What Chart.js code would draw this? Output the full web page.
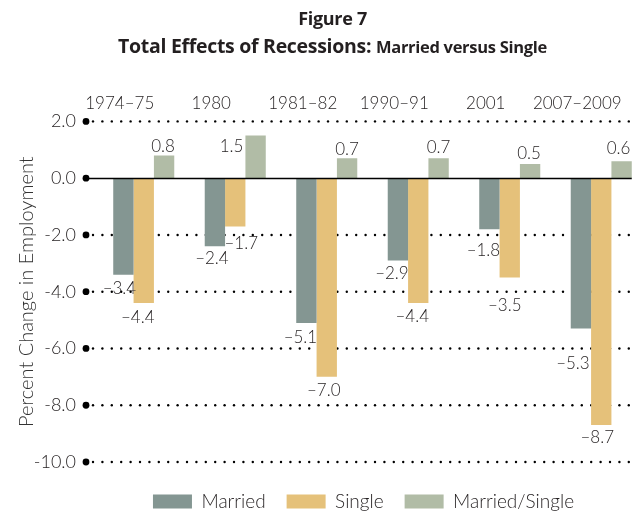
<!DOCTYPE html>
<html>
<head>
<meta charset="utf-8">
<script src="https://cdn.jsdelivr.net/npm/chart.js@4.4.1/dist/chart.umd.min.js"></script>
<style>
  html, body { margin: 0; padding: 0; background: #fff; overflow: hidden; }
  .wrap { position: relative; width: 647px; height: 512px; }
  .titulo {
    position: absolute; left: 0; top: 5px; width: 100%; padding-left: 18px; box-sizing: border-box;
    text-align: center; font-family: "Open Sans", sans-serif; font-weight: bold;
    color: #231f20; line-height: 27px; letter-spacing: -0.3px;
  }
  .titulo .l1 { font-size: 18px; }
  .titulo .l2 { font-size: 19.5px; }
  .titulo .l2 small { font-size: 16.5px; }
</style>
</head>
<body>
<div class="wrap">
  <div class="titulo">
    <div class="l1">Figure 7</div>
    <div class="l2">Total Effects of Recessions: <small>Married versus Single</small></div>
  </div>
  <canvas id="grafico"></canvas>
</div>
<script>
const recesiones = ['1974–75', '1980', '1981–82', '1990–91', '2001', '2007–2009'];
const casados = [-3.4, -2.4, -5.1, -2.9, -1.8, -5.3];
const solteros = [-4.4, -1.7, -7.0, -4.4, -3.5, -8.7];
const razon = [0.8, 1.5, 0.7, 0.7, 0.5, 0.6];
const ticksY = [2, 0, -2, -4, -6, -8, -10];

// ajustes de etiquetas a mano, como en el original [dx, dy]
const ajustes = [
  [[-4, 0], [-3, -1], [-6, 1], [-6, 0], [-6, 8], [-8, 21]],
  [[-6, 1], [6, 4], [-3, 0], [-6, 0], [-5, 15], [-4, -1]],
  [[-1, 0], [-24, 19], [0, 0], [0, -2], [-1, -2], [-3, -4]]
];

const fuente = 'Lato, "Open Sans", sans-serif';
const tinta = '#231f20';

const puntos = {
  id: 'puntos',
  afterLayout(chart) {
    // la leyenda del original queda un poco a la izquierda
    chart.legend.left -= 9;
    chart.legend.right -= 9;
  },
  beforeDatasetsDraw(chart) {
    const ctx = chart.ctx;
    const area = chart.chartArea;
    const y = chart.scales.y;
    const ultima = chart.getDatasetMeta(2).data[5];
    const fin = ultima.x + ultima.width / 2;
    ctx.save();
    ctx.fillStyle = '#000';
    y.ticks.forEach(t => {
      const py = y.getPixelForValue(t.value);
      ctx.beginPath();
      ctx.arc(area.left - 12, py, 3.4, 0, Math.PI * 2);
      ctx.fill();
      if (t.value !== 0) {
        for (let x = area.left - 5; x <= fin; x += 9.4) {
          ctx.beginPath();
          ctx.arc(x, py, 1.2, 0, Math.PI * 2);
          ctx.fill();
        }
      }
    });
    ctx.restore();
  },
  afterDatasetsDraw(chart) {
    const ctx = chart.ctx;
    const area = chart.chartArea;
    const y = chart.scales.y;
    const ultima = chart.getDatasetMeta(2).data[5];
    const fin = ultima.x + ultima.width / 2;
    const py = Math.round(y.getPixelForValue(0)) + 0.5;
    ctx.save();
    ctx.strokeStyle = '#000';
    ctx.lineWidth = 1.3;
    ctx.beginPath();
    ctx.moveTo(area.left - 9, py);
    ctx.lineTo(fin, py);
    ctx.stroke();

    // etiquetas de valores
    ctx.fillStyle = tinta;
    ctx.font = '300 17px ' + fuente;
    ctx.textAlign = 'center';
    chart.data.datasets.forEach((ds, i) => {
      chart.getDatasetMeta(i).data.forEach((barra, j) => {
        const v = ds.data[j];
        const txt = (v < 0 ? '–' : '') + Math.abs(v).toFixed(1);
        const d = ajustes[i][j];
        if (v < 0) {
          ctx.textBaseline = 'top';
          ctx.fillText(txt, barra.x + d[0], barra.y + 5 + d[1]);
        } else {
          ctx.textBaseline = 'alphabetic';
          ctx.fillText(txt, barra.x + d[0], barra.y - 3 + d[1]);
        }
      });
    });
    ctx.restore();
  }
};

new Chart(document.getElementById('grafico'), {
  type: 'bar',
  data: {
    labels: recesiones,
    datasets: [
      { label: 'Married', data: casados, backgroundColor: '#849692' },
      { label: 'Single', data: solteros, backgroundColor: '#e5c17a' },
      { label: 'Married/Single', data: razon, backgroundColor: '#b1bca6' }
    ]
  },
  options: {
    responsive: true,
    maintainAspectRatio: false,
    animation: false,
    layout: { padding: { top: 85, right: 0, left: 0, bottom: -9 } },
    datasets: { bar: { categoryPercentage: 0.667, barPercentage: 1.0 } },
    plugins: {
      legend: {
        position: 'bottom',
        fullSize: false,
        title: { display: true, text: ' ', padding: { top: 0, bottom: 8 }, font: { size: 1, lineHeight: 1 } },
        labels: { boxWidth: 39, boxHeight: 14, padding: 21, color: tinta, font: { family: fuente, size: 19, weight: 300 } }
      },
      tooltip: { enabled: false }
    },
    scales: {
      x: {
        position: 'top',
        afterFit(scale) { scale.paddingLeft = 0; scale.paddingRight = 0; },
        grid: { display: false, drawTicks: false },
        border: { display: false },
        ticks: { color: tinta, padding: 8, labelOffset: -24, autoSkip: false, maxRotation: 0, font: { family: fuente, size: 17, weight: 300 } }
      },
      y: {
        min: -10, max: 2,
        afterFit(scale) { scale.width = 98; },
        afterBuildTicks(scale) { scale.ticks = ticksY.map(v => ({ value: v })); },
        grid: { display: false },
        border: { display: false },
        ticks: { color: tinta, padding: 14, font: { family: fuente, size: 18, weight: 300 }, callback: v => v.toFixed(1) },
        title: { display: true, text: 'Percent Change in Employment', color: '#333', padding: { top: 15, bottom: 0 }, font: { family: fuente, size: 20, weight: 300 } }
      }
    }
  },
  plugins: [puntos]
});
</script>
</body>
</html>
